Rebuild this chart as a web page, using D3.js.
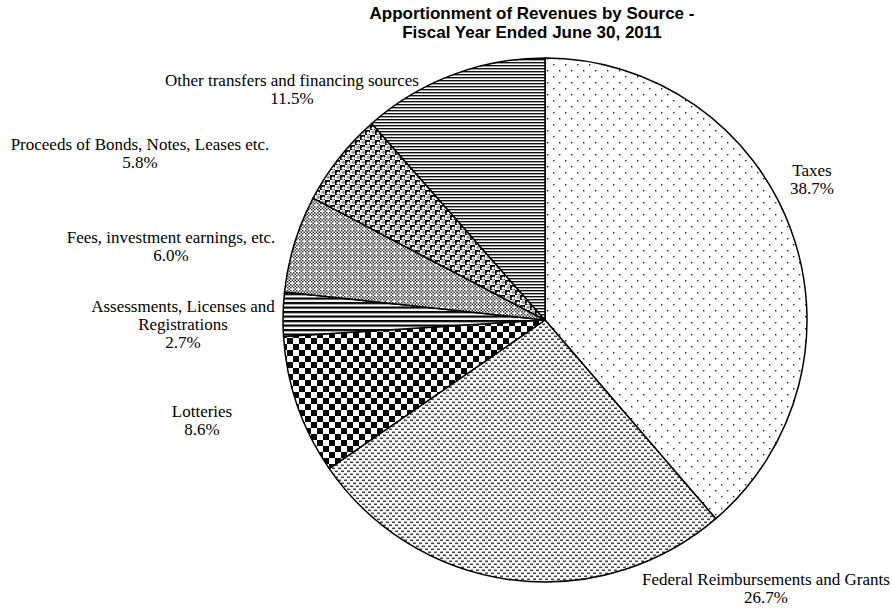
<!DOCTYPE html>
<html>
<head>
<meta charset="utf-8">
<style>
  body { margin: 0; background: #fff; }
  svg { display: block; }
  .title { font: bold 17px "Liberation Sans", Arial, sans-serif; }
  .lbl { font: 17px "Liberation Serif", "Times New Roman", serif; }
</style>
</head>
<body>
<svg width="892" height="608"></svg>
<script src="https://cdnjs.cloudflare.com/ajax/libs/d3/7.8.5/d3.min.js"></script>
<script>

// revenue sources, clockwise from 12 o'clock
var sources = ["Taxes", "Federal Reimbursements and Grants", "Lotteries",
               "Assessments, Licenses and Registrations", "Fees, investment earnings, etc.",
               "Proceeds of Bonds, Notes, Leases etc.", "Other transfers and financing sources"];
var shares = [38.7, 26.7, 8.6, 2.7, 6.0, 5.8, 11.5];
// how each label breaks into lines
var labelLines = [["Taxes"], ["Federal Reimbursements and Grants"], ["Lotteries"],
                  ["Assessments, Licenses and", "Registrations"], ["Fees, investment earnings, etc."],
                  ["Proceeds of Bonds, Notes, Leases etc."], ["Other transfers and financing sources"]];

var svg = d3.select("svg"),
    width = +svg.attr("width"),
    height = +svg.attr("height");

var cx = 545, cy = 320, radius = 262;

// label anchors (centre x, first baseline) relative to pie centre
var labelOffset = [[267, -144], [221, 265], [-343, 97], [-362, -8], [-374, -77], [-405, -170], [-253, -234]];

// title
svg.append("text")
    .attr("class", "title")
    .attr("x", 532)
    .attr("y", 19)
    .attr("text-anchor", "middle")
    .text("Apportionment of Revenues by Source -");
svg.append("text")
    .attr("class", "title")
    .attr("x", 532)
    .attr("y", 38)
    .attr("text-anchor", "middle")
    .text("Fiscal Year Ended June 30, 2011");

// fill patterns (scaled-up office style hatches)
var defs = svg.append("defs");

function pattern(id, w, h) {
  var p = defs.append("pattern")
      .attr("id", id)
      .attr("patternUnits", "userSpaceOnUse")
      .attr("width", w)
      .attr("height", h);
  p.append("rect").attr("width", w).attr("height", h).attr("fill", "#fff");
  return p;
}
function squares(p, list, size, color) {
  list.forEach(function(d) {
    p.append("rect")
      .attr("x", d[0]).attr("y", d[1])
      .attr("width", size[0]).attr("height", size[1])
      .attr("fill", color);
  });
}

// taxes: sparse dots
var p0 = pattern("pat0", 12, 12);
squares(p0, [[2, 2], [8, 8]], [1.4, 1.4], "#222");

// federal: staggered little dashes
var p1 = pattern("pat1", 6, 6);
squares(p1, [[0, 0.5], [3, 3.5]], [3, 1.6], "#444");

// lotteries: large checker
var p2 = pattern("pat2", 12, 12);
squares(p2, [[0, 0], [6, 6]], [6, 6], "#000");

// assessments: wide horizontal stripes
var p3 = pattern("pat3", 6, 4.5);
squares(p3, [[0, 0]], [6, 2.2], "#000");

// fees: fine confetti
var p4 = pattern("pat4", 6, 6);
squares(p4, [[0, 0], [3, 0], [1.5, 1.5], [4.5, 1.5], [0, 3], [3, 3], [1.5, 4.5]], [1.5, 1.5], "#333");

// proceeds: sphere-ish
var p5 = pattern("pat5", 10, 10);
squares(p5, [[0, 0], [5, 5]], [5, 5], "#000");
p5.append("circle").attr("cx", 3.2).attr("cy", 3.2).attr("r", 1.6).attr("fill", "#fff");
p5.append("circle").attr("cx", 8.2).attr("cy", 8.2).attr("r", 1.6).attr("fill", "#fff");
p5.append("circle").attr("cx", 8.2).attr("cy", 2.2).attr("r", 1.8).attr("fill", "#999");
p5.append("circle").attr("cx", 3.2).attr("cy", 7.2).attr("r", 1.8).attr("fill", "#999");

// other: narrow horizontal lines
var p6 = pattern("pat6", 6, 3);
squares(p6, [[0, 0]], [6, 1.4], "#111");

var data = sources.map(function(s, i) { return {name: s, value: shares[i], lines: labelLines[i], idx: i}; });

var pie = d3.pie()
    .sort(null)
    .value(function(d) { return d.value; });

var arc = d3.arc()
    .innerRadius(0)
    .outerRadius(radius);

var g = svg.append("g")
    .attr("transform", "translate(" + cx + "," + cy + ")");

g.selectAll("path.slice")
  .data(pie(data))
  .enter().append("path")
    .attr("class", "slice")
    .attr("d", arc)
    .attr("fill", function(d) { return "url(#pat" + d.data.idx + ")"; })
    .attr("stroke", "#000")
    .attr("stroke-width", 1.5)
    .attr("stroke-linejoin", "round");

var fmt = d3.format(".1f");

var labels = g.selectAll("text.lbl")
  .data(data)
  .enter().append("text")
    .attr("class", "lbl")
    .attr("text-anchor", "middle")
    .attr("fill", "#000");

labels.each(function(d, i) {
  var t = d3.select(this),
      off = labelOffset[i],
      lines = d.lines.concat([fmt(d.value) + "%"]);
  lines.forEach(function(l, j) {
    t.append("tspan")
      .attr("x", off[0])
      .attr("y", off[1] + j * 18)
      .text(l);
  });
});

</script>
</body>
</html>
